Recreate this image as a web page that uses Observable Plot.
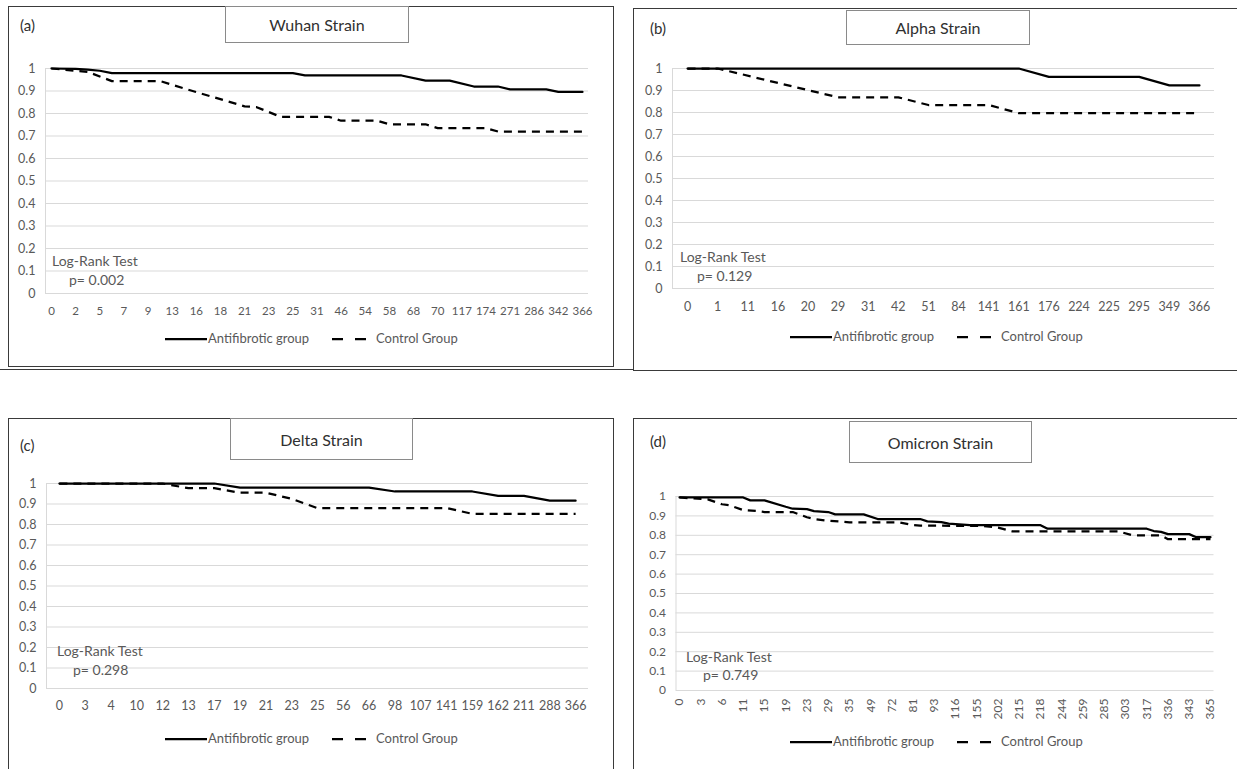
<!DOCTYPE html>
<html><head><meta charset="utf-8">
<script src="https://cdn.jsdelivr.net/npm/d3@7"></script>
<script src="https://cdn.jsdelivr.net/npm/@observablehq/plot@0.6"></script>
<style>
body{margin:0;background:#fff;}
#root{position:relative;width:1237px;height:769px;overflow:hidden;font-family:Lato,"Open Sans",sans-serif;background:#fff;}
.panel{position:absolute;border:1.5px solid #3a3a3a;box-sizing:border-box;background:#fff;}
.tbox{position:absolute;border:1px solid #8a8a8a;box-sizing:border-box;background:#fff;display:flex;align-items:center;justify-content:center;font-size:16px;color:#303030;}
.plab{position:absolute;font-size:15px;color:#303030;line-height:1;}
.note{position:absolute;font-size:14px;color:#595959;white-space:nowrap;line-height:1;}
.legtxt{position:absolute;font-size:13px;color:#595959;white-space:nowrap;line-height:1;}
.chart{position:absolute;}
.sep{position:absolute;left:0;width:1237px;height:0;border-top:1.5px solid #3a3a3a;}
</style></head><body><div id="root"></div>
<script>
// ---------- data ----------
const wuhanDays = ["0","2","5","7","9","13","16","18","21","23","25","31","46","54","58","68","70","117","174","271","286","342","366"];
const wuhanAntifibrotic = [[0,1],[1,0.998],[1.5,0.995],[2,0.99],[2.5,0.979],[10,0.979],[10.5,0.969],[14.5,0.969],[15.5,0.946],[16.5,0.946],[17.5,0.92],[18.5,0.92],[19,0.907],[20.5,0.907],[21,0.896],[22,0.896]];
const wuhanControl = [[0,1],[1,0.99],[1.5,0.985],[2.5,0.944],[4.5,0.944],[6,0.895],[8,0.832],[8.5,0.828],[9.5,0.785],[11.5,0.785],[12,0.768],[13.5,0.768],[14,0.752],[15.5,0.752],[16,0.735],[18,0.735],[18.5,0.72],[22,0.72]];

const alphaDays = ["0","1","11","16","20","29","31","42","51","84","141","161","176","224","225","295","349","366"];
const alphaAntifibrotic = [[0,1],[11,1],[12,0.962],[15,0.962],[16,0.923],[17,0.923]];
const alphaControl = [[0,1],[1,1],[5,0.869],[7,0.869],[8,0.834],[10,0.834],[11,0.797],[17,0.797]];

const deltaDays = ["0","3","4","10","12","13","17","19","21","23","25","56","66","98","107","141","159","162","211","288","366"];
const deltaAntifibrotic = [[0,1],[6,1],[7,0.98],[12,0.98],[13,0.961],[16,0.961],[17,0.94],[18,0.94],[19,0.916],[20,0.916]];
const deltaControl = [[0,1],[4,1],[5,0.977],[6,0.977],[7,0.955],[8,0.955],[9,0.925],[10,0.88],[15,0.88],[16,0.852],[20,0.852]];

const omicronDays = ["0","3","6","11","15","19","23","29","35","49","72","81","93","116","155","202","215","218","244","259","285","303","317","336","343","365"];
const omicronAntifibrotic = [[0,0.995],[3,0.995],[3.33,0.98],[4,0.98],[5,0.947],[5.33,0.937],[6,0.935],[6.33,0.925],[7,0.92],[7.33,0.908],[8.67,0.908],[9.33,0.884],[11.33,0.884],[11.67,0.872],[12.33,0.868],[12.67,0.86],[13.67,0.852],[17,0.852],[17.33,0.834],[22,0.834],[22.33,0.822],[22.67,0.818],[23,0.806],[24,0.806],[24.33,0.79],[25,0.79]];
const omicronControl = [[0,0.995],[0.67,0.99],[1.33,0.985],[2,0.96],[2.33,0.955],[3,0.93],[3.67,0.925],[4,0.92],[5.33,0.92],[6,0.893],[6.33,0.884],[7,0.875],[8,0.867],[10.33,0.867],[11,0.853],[11.33,0.85],[14.33,0.848],[15,0.84],[15.67,0.82],[20.67,0.82],[21.33,0.8],[22.67,0.8],[23,0.78],[25,0.78]];

const yTicks = [0,0.1,0.2,0.3,0.4,0.5,0.6,0.7,0.8,0.9,1];
const seriesNames = ["Antifibrotic group","Control Group"];
const panelLetters = ["(a)","(b)","(c)","(d)"];
const strainTitles = ["Wuhan Strain","Alpha Strain","Delta Strain","Omicron Strain"];
const pValues = ["p= 0.002","p= 0.129","p= 0.298","p= 0.749"];

// ---------- layout ----------
const FONT = "Lato, 'Open Sans', sans-serif";
const root = document.getElementById("root");
function el(cls, style, text){
  const d = document.createElement("div");
  d.className = cls; Object.assign(d.style, style);
  if (text != null) d.textContent = text;
  root.appendChild(d); return d;
}
const fmt = d => d === 0 ? "0" : d === 1 ? "1" : d.toFixed(1);

const panels = [
  {labels:wuhanDays, anti:wuhanAntifibrotic, ctrl:wuhanControl, sub:0.5,
   box:[8,6,606,361], title:[225,6,184,37], lab:[20,18],
   svg:[8,48,606,277], m:[20,26,32,37], pad:13, rot:0, fs:"12.5px", xfs:"11.5px",
   note:[52,254,69,273], leg:[8,332]},
  {labels:alphaDays, anti:alphaAntifibrotic, ctrl:alphaControl, sub:1,
   box:[633,8,620,363], title:[846,10,184,35], lab:[650,21],
   svg:[633,48,604,272], m:[20,23,32,39], pad:14, rot:0, fs:"12.5px", xfs:"12.5px",
   note:[680,250,697,269], leg:[633,330]},
  {labels:deltaDays, anti:deltaAntifibrotic, ctrl:deltaControl, sub:1,
   box:[8,418,606,370], title:[230,418,183,42], lab:[20,438],
   svg:[8,463,606,257], m:[20,26,32,38], pad:13, rot:0, fs:"12.5px", xfs:"12.5px",
   note:[57,644,73,663], leg:[8,732]},
  {labels:omicronDays, anti:omicronAntifibrotic, ctrl:omicronControl, sub:1/3,
   box:[633,418,620,370], title:[849,421,183,42], lab:[650,434],
   svg:[633,476,604,264], m:[20,23.5,50,42.5], pad:8, rot:-90, fs:"12px", xfs:"12px",
   note:[686,650,703,668], leg:[633,735]}
];

el("sep", {top:"369px"});

panels.forEach((p, i) => {
  el("panel", {left:p.box[0]+"px", top:p.box[1]+"px", width:p.box[2]+"px", height:p.box[3]+"px"});
  el("tbox", {left:p.title[0]+"px", top:p.title[1]+"px", width:p.title[2]+"px", height:p.title[3]+"px"}, strainTitles[i]);
  el("plab", {left:p.lab[0]+"px", top:p.lab[1]+"px"}, panelLetters[i]);

  const n = p.labels.length;
  const lo = -p.sub/2, hi = n - 1 + p.sub/2;
  const [mt, mr, mb, ml] = p.m;
  const chart = Plot.plot({
    width: p.svg[2], height: p.svg[3],
    marginTop: mt, marginRight: mr, marginBottom: mb, marginLeft: ml,
    style: {fontFamily: FONT, fontSize: p.fs, color: "#595959", background: "transparent", overflow: "visible"},
    x: {type: "linear", domain: [lo, hi], label: null},
    y: {domain: [0, 1], label: null},
    marks: [
      Plot.gridY(yTicks, {stroke: "#d9d9d9", strokeOpacity: 1}),
      Plot.ruleX([lo], {y1: 0, y2: 1, stroke: "#d9d9d9"}),
      Plot.axisY(yTicks, {tickSize: 0, tickPadding: 10, tickFormat: fmt, label: null, fill: "#595959"}),
      Plot.axisX(d3.range(n), {tickSize: 0, tickPadding: p.pad, tickRotate: p.rot, tickFormat: k => p.labels[k], label: null, fill: "#595959", fontSize: p.xfs}),
      Plot.line(p.ctrl, {x: d => d[0], y: d => d[1], stroke: "#000", strokeWidth: 2.25, strokeDasharray: "8,6", strokeLinecap: "butt"}),
      Plot.line(p.anti, {x: d => d[0], y: d => d[1], stroke: "#000", strokeWidth: 2.25})
    ]
  });
  const holder = el("chart", {left:p.svg[0]+"px", top:p.svg[1]+"px"});
  holder.appendChild(chart);

  el("note", {left:p.note[0]+"px", top:p.note[1]+"px"}, "Log-Rank Test");
  el("note", {left:p.note[2]+"px", top:p.note[3]+"px"}, pValues[i]);

  // legend
  const [lx, ly] = p.leg;
  const ns = "http://www.w3.org/2000/svg";
  const lg = document.createElementNS(ns, "svg");
  lg.setAttribute("width", 380); lg.setAttribute("height", 14);
  lg.style.position = "absolute"; lg.style.left = lx + "px"; lg.style.top = ly + "px";
  const l1 = document.createElementNS(ns, "line");
  Object.entries({x1:157,x2:199,y1:7,y2:7,stroke:"#000","stroke-width":2.25}).forEach(([k,v])=>l1.setAttribute(k,v));
  const l2 = document.createElementNS(ns, "line");
  Object.entries({x1:324,x2:358,y1:7,y2:7,stroke:"#000","stroke-width":2.25,"stroke-dasharray":"11,12"}).forEach(([k,v])=>l2.setAttribute(k,v));
  lg.appendChild(l1); lg.appendChild(l2); root.appendChild(lg);
  el("legtxt", {left:(lx+200)+"px", top:(ly)+"px"}, seriesNames[0]);
  el("legtxt", {left:(lx+368)+"px", top:(ly)+"px"}, seriesNames[1]);
});
</script></body></html>
